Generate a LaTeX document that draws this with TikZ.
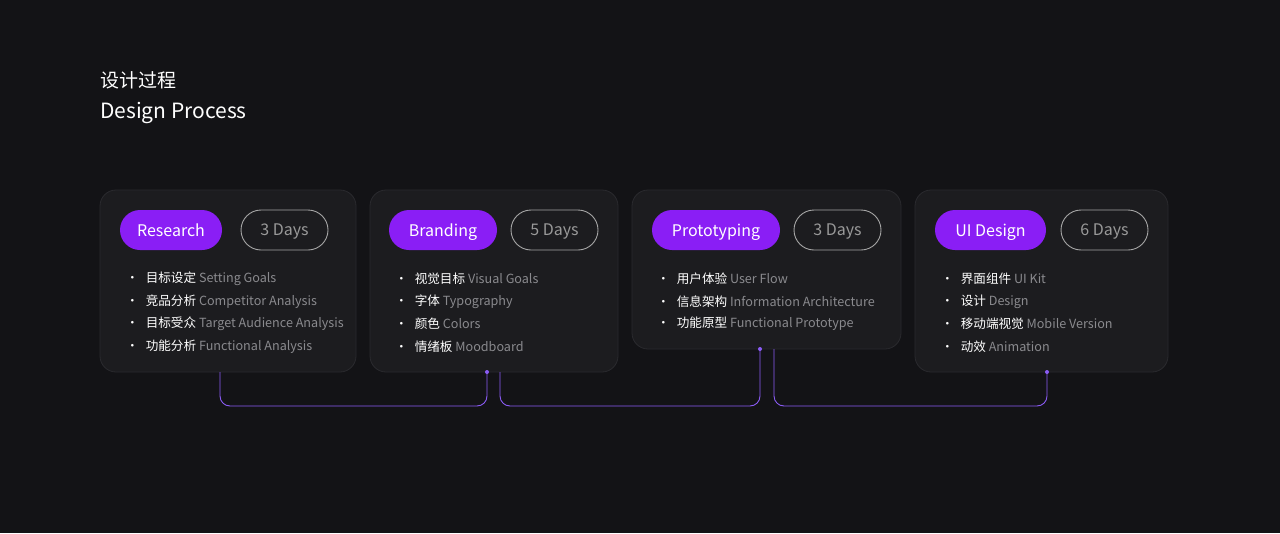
\documentclass[tikz,border=0pt]{standalone}
\usepackage{fontspec}
\setmainfont{Noto Sans CJK SC}
\definecolor{bg}{HTML}{131316}
\definecolor{card}{HTML}{1C1C1F}
\definecolor{cardline}{HTML}{2A2A2E}
\definecolor{pill}{HTML}{8A1EF5}
\definecolor{conn}{HTML}{8B5CF6}
\definecolor{gtxt}{HTML}{8A8A8E}
\tikzset{x=1pt,y=-1pt,
 cardbox/.style={fill=card,draw=cardline,line width=0.8pt,rounded corners=16pt},
 ppill/.style={fill=pill,rounded corners=20pt,minimum height=40pt,inner sep=0pt,text=white,font=\fontsize{16}{16}\selectfont,text depth=-1pt},
 dpill/.style={draw=gray!70,line width=0.9pt,rounded corners=20pt,minimum height=40pt,inner sep=0pt,text=gray!80!white,font=\fontsize{16}{16}\selectfont,text depth=-1pt},
 item/.style={anchor=west,inner sep=0pt,font=\fontsize{12.6}{13}\selectfont,text=white,yshift=-2pt},
 wire/.style={draw=conn,line width=0.9pt,rounded corners=10pt},
 dot/.style={circle,fill=conn,inner sep=0pt,minimum size=4pt}}
\newcommand{\itm}[2]{\textbullet\hspace{7pt}#1 \textcolor{gtxt}{#2}}
\begin{document}
\begin{tikzpicture}
\fill[bg] (0,0) rectangle (1280,533);
\useasboundingbox (0,0) rectangle (1280,533);
\node[anchor=west,inner sep=0pt,text=white,font=\fontsize{19}{19}\selectfont] (t1) at (100,80) {设计过程};
\node[anchor=west,inner sep=0pt,text=white,font=\fontsize{21}{21}\selectfont] (t2) at (100,113) {Design Process};
% cards
\draw[cardbox] (100,190) rectangle (356,372);
\draw[cardbox] (370,190) rectangle (618,372);
\draw[cardbox] (632,190) rectangle (901,349);
\draw[cardbox] (915,190) rectangle (1168,372);
\coordinate (c1) at (220,372); \coordinate (c2b) at (487,372); \coordinate (c2) at (500,372);
\coordinate (c3b) at (760,349); \coordinate (c3) at (774,349); \coordinate (c4b) at (1047,372);
% pills
\node[ppill,minimum width=102pt] (p1) at (171,230) {Research};
\node[dpill,minimum width=87pt] (d1) at (284.5,230) {3 Days};
\node[ppill,minimum width=108pt] (p2) at (443,230) {Branding};
\node[dpill,minimum width=87pt] (d2) at (554.5,230) {5 Days};
\node[ppill,minimum width=128pt] (p3) at (716,230) {Prototyping};
\node[dpill,minimum width=87pt] (d3) at (837.5,230) {3 Days};
\node[ppill,minimum width=111pt] (p4) at (990.5,230) {UI Design};
\node[dpill,minimum width=87pt] (d4) at (1104.5,230) {6 Days};
% items
\node[item] (a1) at (126,277) {\itm{目标设定}{Setting Goals}};
\node[item] (a2) at (126,300) {\itm{竞品分析}{Competitor Analysis}};
\node[item] (a3) at (126,322) {\itm{目标受众}{Target Audience Analysis}};
\node[item] (a4) at (126,345) {\itm{功能分析}{Functional Analysis}};
\node[item] (b1) at (395,277) {\itm{视觉目标}{Visual Goals}};
\node[item] (b2) at (395,300) {\itm{字体}{Typography}};
\node[item] (b3) at (395,322) {\itm{颜色}{Colors}};
\node[item] (b4) at (395,345) {\itm{情绪板}{Moodboard}};
\node[item] (e1) at (657,277) {\itm{用户体验}{User Flow}};
\node[item] (e2) at (657,300) {\itm{信息架构}{Information Architecture}};
\node[item] (e3) at (657,322) {\itm{功能原型}{Functional Prototype}};
\node[item] (f1) at (941,277) {\itm{界面组件}{UI Kit}};
\node[item] (f2) at (941,300) {\itm{设计}{Design}};
\node[item] (f3) at (941,322) {\itm{移动端视觉}{Mobile Version}};
\node[item] (f4) at (941,345) {\itm{动效}{Animation}};
% connectors
\draw[wire] (c1) |- (354,406) -| (c2b);
\draw[wire] (c2) |- (630,406) -| (c3b);
\draw[wire] (c3) |- (910,406) -| (c4b);
\node[dot] at (c2b) {}; \node[dot] at (c3b) {}; \node[dot] at (c4b) {};
\end{tikzpicture}
\end{document}
